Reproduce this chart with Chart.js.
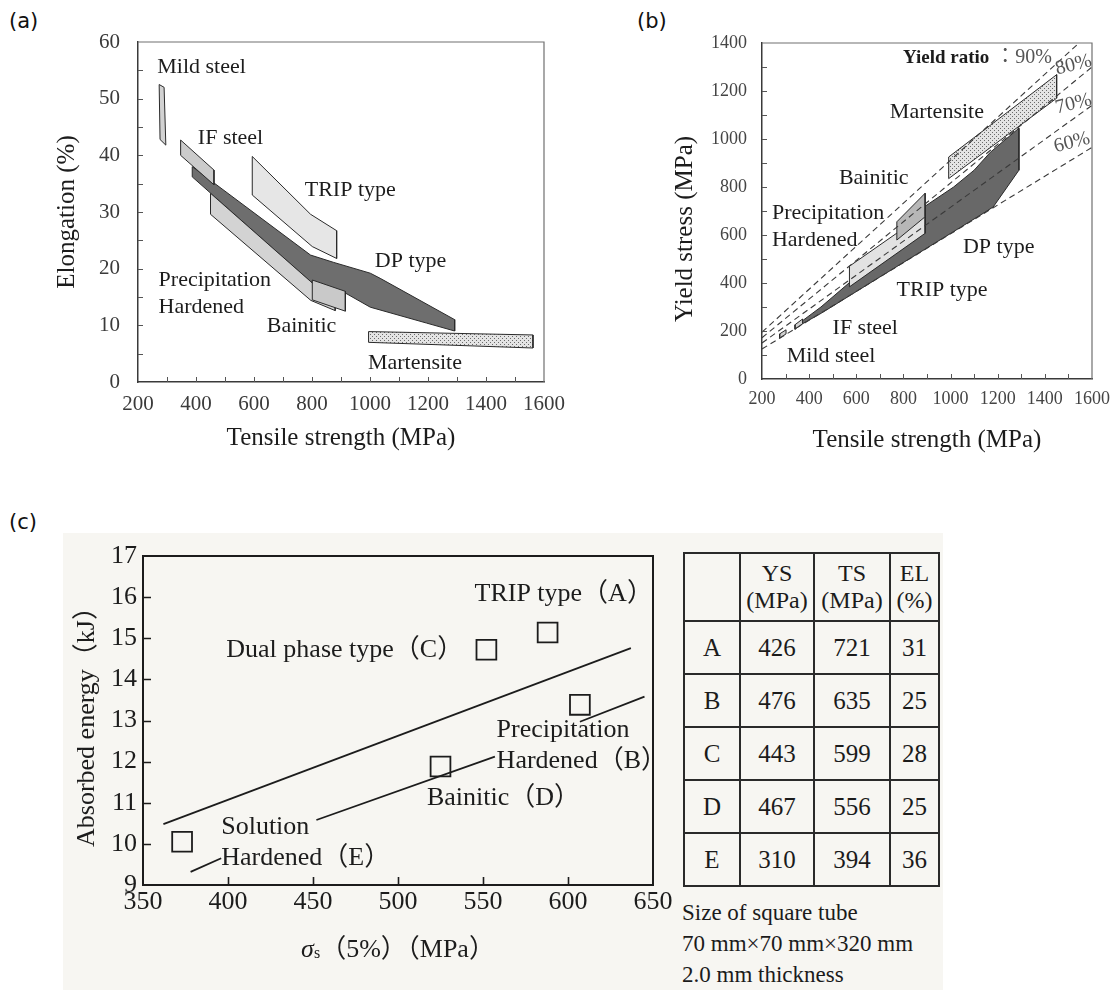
<!DOCTYPE html>
<html lang="en">
<head>
<meta charset="utf-8">
<title>High-strength steel sheets: ductility, yield stress and crash energy</title>
<script src="https://cdn.jsdelivr.net/npm/chart.js@4.4.1/dist/chart.umd.min.js"></script>
<style>
  html, body { margin: 0; padding: 0; background: #fff; }
  body { width: 1111px; height: 990px; overflow: hidden; position: relative; }
  canvas { position: absolute; }
  .tag { position: absolute; font-family: "DejaVu Sans", sans-serif; font-size: 21px; line-height: 24px; color: #111; }
  #scan { position: absolute; left: 63px; top: 533px; width: 880px; height: 457px; background: #f7f6f2; }
  #props { position: absolute; left: 683px; top: 552px; width: 255px; border-collapse: collapse; table-layout: fixed;
           font-family: "Liberation Serif", serif; font-size: 25px; color: #1b1b1b; }
  #props td { border: 2px solid #2a2a2a; text-align: center; padding: 0; }
  #props tr.head td { height: 66px; line-height: 27px; font-size: 24px; }
  #props tr.row td { height: 51px; }
  #note { position: absolute; left: 682px; top: 897px; font-family: "Liberation Serif", serif; font-size: 23px;
          line-height: 31px; color: #1b1b1b; white-space: nowrap; }
</style>
</head>
<body>
<div id="scan"></div>
<div class="tag" style="left:9px;top:9px">(a)</div>
<div class="tag" style="left:637px;top:9px">(b)</div>
<div class="tag" style="left:9px;top:510px">(c)</div>

<canvas id="chartA" width="575" height="460" style="left:0;top:0"></canvas>
<canvas id="chartB" width="500" height="460" style="left:620px;top:0"></canvas>
<canvas id="chartC" width="680" height="470" style="left:0;top:520px"></canvas>

<table id="props"></table>
<div id="note">Size of square tube<br>70 mm×70 mm×320 mm<br>2.0 mm thickness</div>

<script>
// ---------------- (a) Elongation vs. tensile strength ----------------
const aTicksX = [200, 400, 600, 800, 1000, 1200, 1400, 1600];
const aTicksY = [0, 10, 20, 30, 40, 50, 60];
// outlines of each steel grade's band: [tensile strength MPa, elongation %]
const aMildSteel = [[273, 52.5], [290, 52.0], [296, 41.8], [276, 42.8]];
const aIFSteel   = [[347, 42.7], [462, 37.4], [462, 34.8], [347, 40.0]];
const aDPType    = [[387, 38.0], [795, 22.4], [875, 21.1], [1001, 19.2], [1035, 18.3], [1292, 11.0],
                    [1292, 9.0], [1195, 10.4], [1001, 13.2], [915, 15.7], [795, 17.7], [387, 36.2]];
const aPrecip    = [[450, 33.3], [796, 17.7], [880, 13.2], [880, 12.6], [796, 14.4], [450, 29.6]];
const aBainitic  = [[801, 18.0], [915, 16.0], [915, 12.5], [801, 14.5]];
const aTRIPType  = [[594, 39.8], [795, 29.6], [885, 26.7], [885, 21.8], [801, 23.9], [594, 33.0]];
const aMartensite = [[995, 8.9], [1562, 8.3], [1562, 6.0], [995, 7.0]];
// grade names and where they sit: [text, TS, EL, align]
const aLabels = [
  ['Mild steel', 419, 55.6, 'center'],
  ['IF steel', 519, 43.0, 'center'],
  ['TRIP type', 932, 33.9, 'center'],
  ['DP type', 1140, 21.3, 'center'],
  ['Precipitation', 271, 18.0, 'left'],
  ['Hardened', 271, 13.2, 'left'],
  ['Bainitic', 764, 9.8, 'center'],
  ['Martensite', 1155, 3.3, 'center']
];

// ---------------- (b) Yield stress vs. tensile strength ----------------
const bTicksX = [200, 400, 600, 800, 1000, 1200, 1400, 1600];
const bTicksY = [0, 200, 400, 600, 800, 1000, 1200, 1400];
const bMildSteel = [[275, 170], [302, 188], [302, 205], [275, 188]];
const bIFSteel   = [[340, 207], [372, 230], [372, 250], [340, 226]];
const bDPType    = [[368, 240], [450, 300], [575, 405], [892, 625], [892, 720], [1013, 800], [1100, 870],
                    [1169, 945], [1250, 1012], [1290, 1045], [1290, 870], [1181, 717], [1138, 690],
                    [700, 425], [453, 275], [368, 228]];
const bPrecip    = [[571, 470], [892, 690], [892, 607], [571, 384]];
const bBainitic  = [[772, 655], [892, 774], [892, 676], [772, 579]];
const bMartensite = [[992, 925], [1450, 1268], [1450, 1170], [992, 835]];
// yield-ratio guide lines: [TS, YS] end points
const bRatio90 = [[200, 195], [1545, 1400]];
const bRatio80 = [[200, 172], [1600, 1300]];
const bRatio70 = [[200, 150], [1600, 1140]];
const bRatio60 = [[200, 125], [1600, 965]];
const bLabels = [
  ['Martensite', 942, 1113, 'center'],
  ['Bainitic', 674, 835, 'center'],
  ['Precipitation', 242, 690, 'left'],
  ['Hardened', 242, 579, 'left'],
  ['DP type', 1204, 551, 'center'],
  ['TRIP type', 964, 370, 'center'],
  ['IF steel', 638, 211, 'center'],
  ['Mild steel', 493, 93, 'center']
];
const bRatioLabels = [
  ['80%', 1522, 1308],
  ['70%', 1522, 1146],
  ['60%', 1515, 985]
];

// ---------------- (c) Absorbed energy of square tubes ----------------
const cTicksX = [350, 400, 450, 500, 550, 600, 650];
const cTicksY = [9, 10, 11, 12, 13, 14, 15, 16, 17];
const cSteels = ['A', 'B', 'C', 'D', 'E'];
const cSigma  = [588, 607, 552, 525, 373];          // σs(5%) MPa
const cEnergy = [15.14, 13.38, 14.72, 11.88, 10.05]; // kJ
const cUpperLine = [[362, 10.48], [637, 14.76]];
const cLowerLine = [[378, 9.32], [396, 9.65], null, [452, 10.58], [557, 12.12], null, [607, 12.97], [645, 13.58]];
const cLabels = [
  ['TRIP type（A）', 545, 16.06],
  ['Dual phase type（C）', 399, 14.72],
  ['Precipitation', 558, 12.77],
  ['Hardened（B）', 558, 12.0],
  ['Bainitic（D）', 517, 11.1],
  ['Solution', 396, 10.4],
  ['Hardened（E）', 396, 9.65]
];

// tube properties table
const tubeYS = [426, 476, 443, 467, 310];
const tubeTS = [721, 635, 599, 556, 394];
const tubeEL = [31, 25, 28, 25, 36];

// ---------------- helpers ----------------
const SERIF = '"Liberation Serif", "Noto Sans CJK JP", serif';
const INK = '#1c1c1c';

function closed(pts) {
  const out = pts.map(([x, y]) => ({x, y}));
  out.push({x: pts[0][0], y: pts[0][1]});
  return out;
}
function region(pts, fill, order) {
  return {data: closed(pts), showLine: true, fill: 'shape', backgroundColor: fill,
          borderColor: '#2a2a2a', borderWidth: 1, pointRadius: 0, pointHoverRadius: 0, tension: 0, order};
}
function guide(pts, order) {
  return {data: pts.map(([x, y]) => ({x, y})), showLine: true, fill: false, borderColor: '#3a3a3a',
          borderWidth: 1.1, borderDash: [6, 4], pointRadius: 0, tension: 0, order};
}
function axis(o) {
  return {
    type: 'linear', min: o.min, max: o.max,
    afterBuildTicks: s => { s.ticks = o.ticks.map(v => ({value: v})); },
    afterFit: o.horizontal ? s => { s.height = o.size; } : s => { s.width = o.size; },
    grid: {display: false, drawTicks: false},
    border: {display: true, color: o.borderColor, width: o.borderWidth},
    ticks: {font: {family: SERIF, size: o.tickSize}, color: o.tickColor, padding: o.tickPad,
            maxRotation: 0, autoSkip: false, callback: v => String(v)},
    title: {display: !!o.title, text: o.title, color: INK,
            font: {family: SERIF, size: o.titleSize}, padding: o.titlePad}
  };
}
function dotPattern(canvas) {
  const tile = document.createElement('canvas');
  tile.width = 4; tile.height = 4;
  const g = tile.getContext('2d');
  g.fillStyle = '#e4e4e4'; g.fillRect(0, 0, 4, 4);
  g.fillStyle = '#6a6a6a'; g.fillRect(0, 0, 1, 1); g.fillRect(2, 2, 1, 1);
  return canvas.getContext('2d').createPattern(tile, 'repeat');
}
// inward tick marks plus the closing top/right frame lines
function framePlugin(id, o) {
  return {
    id,
    afterDatasetsDraw(chart) {
      const {ctx, chartArea: a, scales: {x, y}} = chart;
      ctx.save();
      ctx.strokeStyle = o.frameColor; ctx.lineWidth = o.frameWidth;
      ctx.beginPath();
      ctx.moveTo(a.left, a.top); ctx.lineTo(a.right, a.top); ctx.lineTo(a.right, a.bottom);
      ctx.stroke();
      ctx.strokeStyle = o.tickColor; ctx.lineWidth = o.tickWidth;
      ctx.beginPath();
      for (let v = o.xFrom; v <= o.xTo + 1e-9; v += o.xStep) {
        const px = Math.round(x.getPixelForValue(v)) + 0.5;
        ctx.moveTo(px, a.bottom); ctx.lineTo(px, a.bottom - o.len);
      }
      for (let v = o.yFrom; v <= o.yTo + 1e-9; v += o.yStep) {
        const py = Math.round(y.getPixelForValue(v)) + 0.5;
        ctx.moveTo(a.left, py); ctx.lineTo(a.left + o.len, py);
      }
      ctx.stroke();
      ctx.restore();
    }
  };
}
// text placed at data coordinates
function labelPlugin(id, items, font, color, rot) {
  return {
    id,
    afterDatasetsDraw(chart) {
      const {ctx, scales: {x, y}} = chart;
      for (const [text, vx, vy, align] of items) {
        ctx.save();
        ctx.font = font; ctx.fillStyle = color;
        ctx.textAlign = align || 'center'; ctx.textBaseline = 'middle';
        ctx.translate(x.getPixelForValue(vx), y.getPixelForValue(vy));
        if (rot) ctx.rotate(rot * Math.PI / 180);
        ctx.fillText(text, 0, 0);
        ctx.restore();
      }
    }
  };
}
// vertical axis title placed relative to the plot area (dx left of it, dy below its middle)
function sideTitle(id, text, font, dx, dy) {
  return {
    id,
    afterDraw(chart) {
      const {ctx, chartArea: a} = chart;
      ctx.save();
      ctx.font = font; ctx.fillStyle = INK; ctx.textAlign = 'center'; ctx.textBaseline = 'middle';
      ctx.translate(a.left - dx, (a.top + a.bottom) / 2 + dy);
      ctx.rotate(-Math.PI / 2);
      ctx.fillText(text, 0, 0);
      ctx.restore();
    }
  };
}
const common = {
  responsive: false, animation: false, events: [],
  plugins: {legend: {display: false}, tooltip: {enabled: false}}
};

// ---------------- chart (a) ----------------
const canvasA = document.getElementById('chartA');
new Chart(canvasA, {
  type: 'scatter',
  data: {datasets: [
    region(aMartensite, dotPattern(canvasA), 1),
    region(aTRIPType, '#e6e6e6', 2),
    region(aMildSteel, '#d2d2d2', 3),
    region(aIFSteel, '#cbcbcb', 4),
    region(aBainitic, '#c9c9c9', 5),
    region(aPrecip, '#d3d3d3', 6),
    region(aDPType, '#6e6e6e', 7)
  ]},
  options: {
    ...common,
    layout: {padding: {left: 0, top: 42, right: 29, bottom: 0}},
    scales: {
      x: axis({min: 200, max: 1600, ticks: aTicksX, horizontal: true, size: 78, borderColor: '#3a3a3a',
               borderWidth: 1.5, tickSize: 21, tickColor: '#3a3a3a', tickPad: 10,
               title: 'Tensile strength (MPa)', titleSize: 25, titlePad: {bottom: 7}}),
      y: axis({min: 0, max: 60, ticks: aTicksY, size: 138, borderColor: '#3a3a3a', borderWidth: 1.5,
               tickSize: 21, tickColor: '#3a3a3a', tickPad: 18,
               title: 'Elongation (%)', titleSize: 25, titlePad: {top: 52}})
    }
  },
  plugins: [
    framePlugin('frameA', {frameColor: '#707070', frameWidth: 1.2, tickColor: '#555', tickWidth: 1, len: 5,
                           xFrom: 300, xTo: 1500, xStep: 100, yFrom: 5, yTo: 55, yStep: 5}),
    labelPlugin('labelsA', aLabels, '22px ' + SERIF, INK)
  ]
});

// ---------------- chart (b) ----------------
const canvasB = document.getElementById('chartB');
new Chart(canvasB, {
  type: 'scatter',
  data: {datasets: [
    guide(bRatio90, 1), guide(bRatio80, 2), guide(bRatio70, 3), guide(bRatio60, 4),
    region(bMildSteel, '#d0d0d0', 5),
    region(bIFSteel, '#d0d0d0', 6),
    region(bMartensite, dotPattern(canvasB), 7),
    region(bBainitic, '#b7b7b7', 8),
    region(bPrecip, '#e2e2e2', 9),
    region(bDPType, '#686868', 10)
  ]},
  options: {
    ...common,
    layout: {padding: {left: 0, top: 43, right: 28, bottom: 0}},
    scales: {
      x: axis({min: 200, max: 1600, ticks: bTicksX, horizontal: true, size: 81, borderColor: '#3a3a3a',
               borderWidth: 1.5, tickSize: 18, tickColor: '#444', tickPad: 9,
               title: 'Tensile strength (MPa)', titleSize: 25, titlePad: {bottom: 5}}),
      y: axis({min: 0, max: 1400, ticks: bTicksY, size: 142, borderColor: '#3a3a3a', borderWidth: 1.5,
               tickSize: 18, tickColor: '#444', tickPad: 15})
    }
  },
  plugins: [
    framePlugin('frameB', {frameColor: '#707070', frameWidth: 1.2, tickColor: '#555', tickWidth: 1, len: 5,
                           xFrom: 300, xTo: 1500, xStep: 100, yFrom: 100, yTo: 1300, yStep: 100}),
    labelPlugin('labelsB', bLabels, '22px ' + SERIF, INK),
    labelPlugin('ratiosB', bRatioLabels, '20px ' + SERIF, '#555', -14),
    labelPlugin('yrTitleB', [['Yield ratio', 798, 1336, 'left']], 'bold 19px ' + SERIF, INK),
    labelPlugin('yr90B', [['：90%', 1190, 1340, 'left']], '20px ' + SERIF, '#555'),
    sideTitle('yTitleB', 'Yield stress (MPa)', '25px ' + SERIF, 77, 18)
  ]
});

// ---------------- chart (c) ----------------
const sigmaTitle = {
  id: 'sigmaTitle',
  afterDraw(chart) {
    const {ctx, chartArea: a} = chart;
    const parts = [
      {t: 'σ', f: 'italic 26px ' + SERIF, dy: 0},
      {t: 's', f: '16px ' + SERIF, dy: 1},
      {t: '（5%）（MPa）', f: '26px ' + SERIF, dy: 0}
    ];
    let w = 0;
    for (const p of parts) { ctx.font = p.f; p.w = ctx.measureText(p.t).width; w += p.w; }
    ctx.save();
    ctx.fillStyle = INK; ctx.textBaseline = 'alphabetic'; ctx.textAlign = 'left';
    let x = (a.left + a.right) / 2 - w / 2;
    const base = a.bottom + 72;
    for (const p of parts) { ctx.font = p.f; ctx.fillText(p.t, x, base + p.dy); x += p.w; }
    ctx.restore();
  }
};
new Chart(document.getElementById('chartC'), {
  type: 'scatter',
  data: {datasets: [
    {data: cSigma.map((v, i) => ({x: v, y: cEnergy[i]})), pointStyle: 'rect', pointRadius: 14,
     pointBorderWidth: 1.8, borderColor: '#1c1c1c', backgroundColor: 'rgba(0,0,0,0)', showLine: false, order: 1},
    {data: cUpperLine.map(([x, y]) => ({x, y})), showLine: true, borderColor: '#1c1c1c', borderWidth: 1.8,
     pointRadius: 0, fill: false, order: 2},
    {data: cLowerLine.map(p => p ? {x: p[0], y: p[1]} : {x: 420, y: null}), showLine: true, spanGaps: false,
     borderColor: '#1c1c1c', borderWidth: 1.8, pointRadius: 0, fill: false, order: 3}
  ]},
  options: {
    ...common,
    layout: {padding: {left: 0, top: 36, right: 27, bottom: 0}},
    scales: {
      x: axis({min: 350, max: 650, ticks: cTicksX, horizontal: true, size: 105, borderColor: '#1c1c1c',
               borderWidth: 2, tickSize: 26, tickColor: INK, tickPad: 2}),
      y: axis({min: 9, max: 17, ticks: cTicksY, size: 143, borderColor: '#1c1c1c', borderWidth: 2,
               tickSize: 26, tickColor: INK, tickPad: 6,
               title: 'Absorbed energy（kJ）', titleSize: 26, titlePad: {top: 72}})
    }
  },
  plugins: [
    framePlugin('frameC', {frameColor: '#1c1c1c', frameWidth: 2, tickColor: '#1c1c1c', tickWidth: 1.6, len: 8,
                           xFrom: 400, xTo: 600, xStep: 50, yFrom: 10, yTo: 16, yStep: 1}),
    labelPlugin('labelsC', cLabels.map(l => [l[0], l[1], l[2], 'left']), '26px ' + SERIF, INK),
    sigmaTitle
  ]
});

// ---------------- property table ----------------
const table = document.getElementById('props');
table.innerHTML =
  '<colgroup><col style="width:56px"><col style="width:74px"><col style="width:76px"><col style="width:49px"></colgroup>' +
  '<tr class="head"><td></td><td>YS<br>(MPa)</td><td>TS<br>(MPa)</td><td>EL<br>(%)</td></tr>' +
  cSteels.map((s, i) => `<tr class="row"><td>${s}</td><td>${tubeYS[i]}</td><td>${tubeTS[i]}</td><td>${tubeEL[i]}</td></tr>`).join('');
</script>
</body>
</html>
